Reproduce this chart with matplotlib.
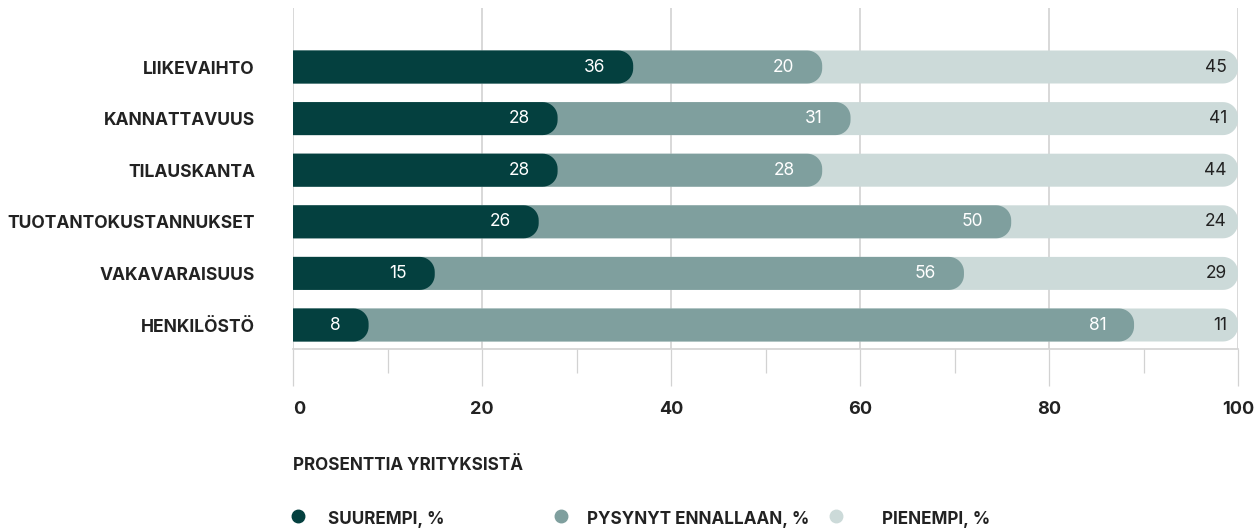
import matplotlib
matplotlib.use("Agg")
import matplotlib.pyplot as plt
from matplotlib.path import Path
from matplotlib.patches import PathPatch
from matplotlib.lines import Line2D
import numpy as np

# --- data -------------------------------------------------------------
categories = ["LIIKEVAIHTO", "KANNATTAVUUS", "TILAUSKANTA",
              "TUOTANTOKUSTANNUKSET", "VAKAVARAISUUS", "HENKILÖSTÖ"]
suurempi = [36, 28, 28, 26, 15, 8]
pysynyt = [20, 31, 28, 50, 56, 81]
pienempi = [45, 41, 44, 24, 29, 11]
series_names = ["SUUREMPI, %", "PYSYNYT ENNALLAAN, %", "PIENEMPI, %"]
x_ticks = [0, 20, 40, 60, 80, 100]
x_minor = [10, 30, 50, 70, 90]
x_title = "PROSENTTIA YRITYKSISTÄ"

# --- style -------------------------------------------------------------
colors = ["#04403F", "#7F9F9E", "#CCDAD9"]
label_colors = ["white", "white", "#222222"]
text_dark = "#222222"
grid_col = "#d2d2d2"
plt.rcParams["font.family"] = ["Inter", "DejaVu Sans"]

W, H = 1260, 532
fig = plt.figure(figsize=(W / 100, H / 100), dpi=100)
ax = fig.add_axes([293 / W, 1 - 349 / H, 945 / W, 341 / H])
ax.set_xlim(0, 100)
row_px = 51.6
ax.set_ylim(5 + 24 / row_px, -59 / row_px)

# pixel scale of the data units, for rounded bar ends
p0 = ax.transData.transform((0, 0))
p1 = ax.transData.transform((1, 1))
sx, sy = abs(p1[0] - p0[0]), abs(p1[1] - p0[1])

bar_h = 33 / sy
radius_px = 15


def rounded_bar(y, x1, color):
    """Bar from 0 to x1 with a rounded right end."""
    rx, ry = radius_px / sx, radius_px / sy
    yb, yt = y - bar_h / 2, y + bar_h / 2
    verts = [(0, yb), (x1 - rx, yb)]
    for t in np.linspace(-np.pi / 2, 0, 12):
        verts.append((x1 - rx + rx * np.cos(t), yb + ry + ry * np.sin(t)))
    for t in np.linspace(0, np.pi / 2, 12):
        verts.append((x1 - rx + rx * np.cos(t), yt - ry + ry * np.sin(t)))
    verts += [(0, yt), (0, yb)]
    codes = [Path.MOVETO] + [Path.LINETO] * (len(verts) - 2) + [Path.CLOSEPOLY]
    ax.add_patch(PathPatch(Path(verts, codes), facecolor=color,
                           edgecolor="none", zorder=3))


for i, cat in enumerate(categories):
    c1 = suurempi[i]
    c2 = suurempi[i] + pysynyt[i]
    c3 = min(c2 + pienempi[i], 100)
    rounded_bar(i, c3, colors[2])
    rounded_bar(i, c2, colors[1])
    rounded_bar(i, c1, colors[0])
    for val, end, col in ((suurempi[i], c1, label_colors[0]),
                          (pysynyt[i], c2, label_colors[1])):
        ax.annotate(str(val), (end, i), xytext=(-20, 0),
                    textcoords="offset points", ha="right", va="center",
                    color=col, fontsize=12.5, zorder=5)
    ax.annotate(str(pienempi[i]), (c3, i), xytext=(-8, 0),
                textcoords="offset points", ha="right", va="center",
                color=label_colors[2], fontsize=12.5, zorder=5)

# --- axes --------------------------------------------------------------
for s in ("top", "right", "left"):
    ax.spines[s].set_visible(False)
ax.spines["bottom"].set_color(grid_col)
ax.spines["bottom"].set_linewidth(1.2)
ax.grid(axis="x", color=grid_col, linewidth=1.2, zorder=0)
ax.set_axisbelow(True)

ax.set_xticks(x_ticks)
ax.set_xticks(x_minor, minor=True)
ax.set_xticklabels([str(t) for t in x_ticks], fontsize=13,
                   fontweight="bold", color=text_dark)
ax.get_xticklabels()[0].set_ha("left")
ax.tick_params(axis="x", which="major", length=37 * 0.72, width=0.9,
               color=grid_col, pad=11)
ax.tick_params(axis="x", which="minor", length=24 * 0.72, width=0.9,
               color=grid_col)

ax.set_yticks(range(len(categories)))
ax.set_yticklabels(categories, fontsize=12.6, fontweight="bold",
                   color=text_dark)
ax.tick_params(axis="y", length=0, pad=38 * 0.72)

fig.text(293 / W, 1 - 465 / H, x_title, fontsize=12.3, fontweight="bold",
         color=text_dark, ha="left", va="center")

# --- legend ------------------------------------------------------------
legend_y = 1 - 519 / H
dot_x = [298, 561, 836]
text_x = [328, 587, 882]
for name, col, dx, tx in zip(series_names, colors, dot_x, text_x):
    fig.add_artist(Line2D([dx / W], [legend_y + 3 / H], marker="o",
                          markersize=9, color=col, linestyle="none",
                          transform=fig.transFigure))
    fig.text(tx / W, legend_y, name, fontsize=12.3, fontweight="bold",
             color=text_dark, ha="left", va="center")

fig.savefig("out.png", dpi=100)
